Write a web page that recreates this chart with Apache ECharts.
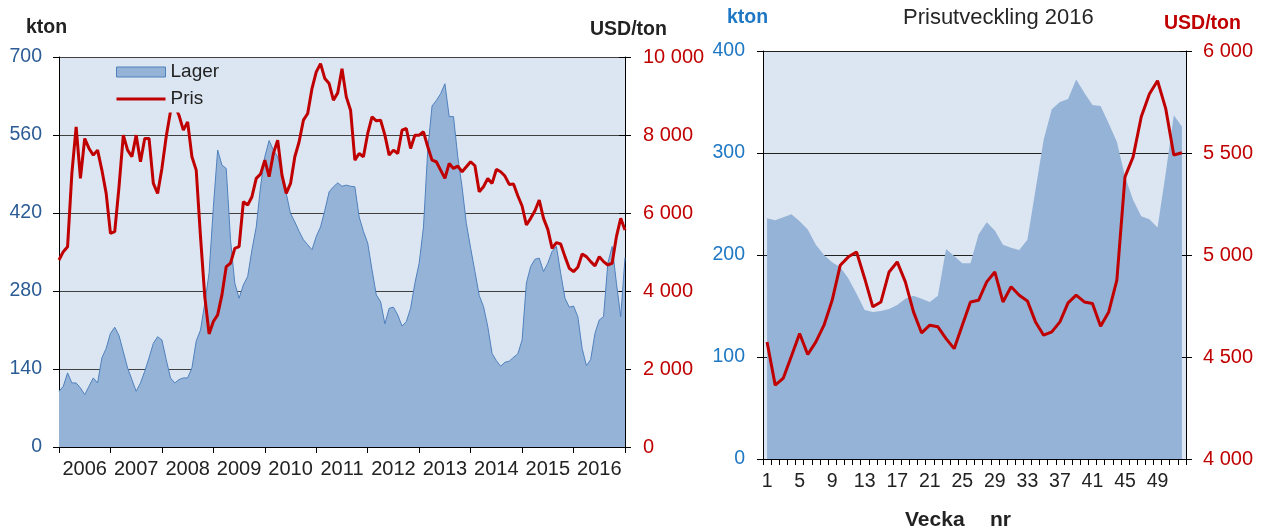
<!DOCTYPE html>
<html>
<head>
<meta charset="utf-8">
<script src="https://cdn.jsdelivr.net/npm/echarts@6/dist/echarts.min.js"></script>
<style>
html,body{margin:0;padding:0;background:#fff;}
#chart{width:1264px;height:532px;}
</style>
</head>
<body>
<div id="chart"></div>
<script>
// ---- Left chart: monthly readings Jan 2006 .. Dec 2016 (+ end point) ----
const years = ['2006','2007','2008','2009','2010','2011','2012','2013','2014','2015','2016'];
const startYear = 2006;
const lagerMonthly = [
  100,109,133,115,115,106,94,109,124,115,
  160,177,204,215,200,171,142,121,100,115,
  136,160,186,198,192,157,124,115,121,124,
  124,142,190,210,258,312,431,533,506,500,
  372,294,267,291,306,354,395,467,521,550,
  533,521,488,455,419,404,387,372,363,354,
  378,395,425,458,467,474,468,470,468,467,
  413,387,366,318,273,261,221,249,251,237,
  217,225,249,294,330,395,533,612,622,634,
  652,593,593,521,467,401,357,315,272,252,
  216,168,155,145,152,154,161,167,192,294,
  324,337,339,315,330,351,360,312,267,251,
  253,234,177,146,157,204,228,234,330,360,
  294,234,340
];
const prisMonthly = [
  4796,5009,5137,7015,8210,6887,7911,7655,7484,7612,
  7100,6503,5479,5521,6674,7996,7612,7441,7996,7314,
  7911,7911,6759,6503,7143,7954,8600,8750,8500,8124,
  8338,7441,7100,5393,3857,2900,3217,3388,3900,4625,
  4711,5095,5137,6289,6204,6418,6887,6998,7356,6930,
  7527,7868,6972,6503,6759,7442,7826,8380,8551,9191,
  9618,9831,9447,9319,8892,9080,9700,8978,8636,7356,
  7527,7442,8039,8466,8363,8380,7996,7484,7612,7527,
  8124,8167,7655,7996,7996,8082,7698,7356,7314,7100,
  6887,7271,7143,7203,7058,7186,7314,7211,6546,6674,
  6887,6759,7117,7058,6947,6733,6742,6443,6179,5692,
  5863,6059,6332,5863,5581,5095,5240,5206,4881,4583,
  4498,4608,4950,4881,4753,4643,4881,4753,4668,4711,
  5394,5863,5564
];

// ---- Right chart: weekly 2016 ----
const weeks = ['1','2','3','4','5','6','7','8','9','10','11','12','13','14','15','16','17','18','19','20','21','22','23','24','25','26','27','28','29','30','31','32','33','34','35','36','37','38','39','40','41','42','43','44','45','46','47','48','49','50','51','52'];
const lager2016 = [236,234,237,240,233,225,210,200,193,188,177,162,146,144,145,147,151,157,160,157,154,160,206,199,192,192,220,232,224,210,207,205,215,264,313,343,350,353,372,359,347,346,329,311,277,254,238,235,227,280,337,326];
const pris2016 = [4574,4362,4397,4505,4615,4512,4574,4656,4778,4950,4991,5015,4885,4746,4770,4917,4966,4868,4721,4618,4656,4648,4590,4541,4656,4770,4778,4868,4917,4770,4844,4803,4775,4672,4607,4623,4672,4765,4803,4770,4762,4651,4721,4877,5383,5481,5678,5789,5854,5719,5490,5501];

const FONT = '"Liberation Sans", Arial, sans-serif';
const RED = '#c00000';
const AREA = '#95b3d7';
const BG = '#dce6f2';
const fmtThousands = v => String(v).replace(/\B(?=(\d{3})+(?!\d))/g, ' ');

const lagerPts = lagerMonthly.map((v, i) => [startYear + i / 12, v]);
const prisPts = prisMonthly.map((v, i) => [startYear + i / 12, v]);

const chart = echarts.init(document.getElementById('chart'), null, {renderer: 'canvas'});

const tickStyle = {color: '#000', width: 1};

chart.setOption({
  animation: false,
  textStyle: {fontFamily: FONT},
  grid: [
    {left: 59, top: 57, width: 566, height: 390, show: true, backgroundColor: BG, borderWidth: 0},
    {left: 763, top: 51, width: 423, height: 408, show: true, backgroundColor: BG, borderWidth: 0}
  ],
  legend: {
    orient: 'vertical', left: 111, top: 59, padding: [3.5, 5, 4, 5], itemGap: 8,
    itemWidth: 49, itemHeight: 10,
    backgroundColor: BG,
    textStyle: {fontSize: 19, color: '#222', fontFamily: FONT},
    data: [
      {name: 'Lager', icon: 'rect', itemStyle: {color: AREA, borderColor: '#4f81bd', borderWidth: 1}},
      {name: 'Pris', icon: 'path://M0,0 L0,0 M0,3.5 L49,3.5 L49,6.5 L0,6.5 Z M49,10 L49,10',
       itemStyle: {color: RED}}
    ]
  },
  xAxis: [
    {gridIndex: 0, type: 'category', data: years, position: 'bottom', boundaryGap: true,
     axisLine: {show: true, lineStyle: {color: '#000'}},
     axisTick: {show: true, length: 6, lineStyle: tickStyle},
     axisLabel: {interval: 0, fontSize: 20, color: '#222', margin: 12, fontFamily: FONT},
     splitLine: {show: false}},
    {gridIndex: 0, type: 'category', data: years, position: 'bottom', boundaryGap: true,
     axisLine: {show: false}, axisTick: {show: true, inside: true, length: 6, lineStyle: tickStyle},
     axisLabel: {show: false}, splitLine: {show: false}},
    {gridIndex: 0, type: 'value', min: 2006, max: 2017, show: false},
    {gridIndex: 1, type: 'category', data: weeks, position: 'bottom', boundaryGap: true,
     axisLine: {show: true, lineStyle: {color: '#000'}},
     axisTick: {show: true, interval: 0, length: 6, lineStyle: tickStyle},
     axisLabel: {interval: 3, fontSize: 19.5, color: '#222', margin: 13, fontFamily: FONT},
     splitLine: {show: false}},
    {gridIndex: 1, type: 'category', data: weeks, position: 'bottom', boundaryGap: true,
     axisLine: {show: false}, axisTick: {show: true, interval: 0, inside: true, length: 6, lineStyle: tickStyle},
     axisLabel: {show: false}, splitLine: {show: false}}
  ],
  yAxis: [
    {gridIndex: 0, type: 'value', position: 'left', min: 0, max: 700, interval: 140,
     axisLine: {show: true, lineStyle: {color: '#000'}},
     axisTick: {show: true, length: 6, lineStyle: tickStyle},
     axisLabel: {fontSize: 19.5, color: '#2b5c95', margin: 17, fontFamily: FONT},
     splitLine: {show: true, lineStyle: {color: '#404040', width: 1}}},
    {gridIndex: 0, type: 'value', position: 'right', min: 0, max: 10000, interval: 2000,
     axisLine: {show: true, lineStyle: {color: '#000'}},
     axisTick: {show: true, length: 6, lineStyle: tickStyle},
     axisLabel: {fontSize: 20, color: RED, margin: 18, fontFamily: FONT, formatter: fmtThousands},
     splitLine: {show: false}},
    {gridIndex: 0, type: 'value', position: 'right', min: 0, max: 10000, interval: 2000,
     axisLine: {show: false}, axisTick: {show: true, inside: true, length: 6, lineStyle: tickStyle},
     axisLabel: {show: false}, splitLine: {show: false}},
    {gridIndex: 1, type: 'value', position: 'left', min: 0, max: 400, interval: 100,
     axisLine: {show: true, lineStyle: {color: '#000'}},
     axisTick: {show: true, length: 6, lineStyle: tickStyle},
     axisLabel: {fontSize: 19.5, color: '#1f78c4', margin: 18, fontFamily: FONT},
     splitLine: {show: true, lineStyle: {color: '#222', width: 1}}},
    {gridIndex: 1, type: 'value', position: 'right', min: 4000, max: 6000, interval: 500,
     axisLine: {show: true, lineStyle: {color: '#000'}},
     axisTick: {show: true, length: 6, lineStyle: tickStyle},
     axisLabel: {fontSize: 20, color: RED, margin: 17, fontFamily: FONT, formatter: fmtThousands},
     splitLine: {show: false}},
    {gridIndex: 1, type: 'value', position: 'right', min: 4000, max: 6000, interval: 500,
     axisLine: {show: false}, axisTick: {show: true, inside: true, length: 6, lineStyle: tickStyle},
     axisLabel: {show: false}, splitLine: {show: false}}
  ],
  series: [
    {name: 'Lager', type: 'line', xAxisIndex: 2, yAxisIndex: 0, data: lagerPts,
     symbol: 'none', showSymbol: false, z: 2,
     lineStyle: {color: '#4f81bd', width: 1}, itemStyle: {color: AREA},
     areaStyle: {color: AREA, opacity: 1}},
    {name: 'Pris', type: 'line', xAxisIndex: 2, yAxisIndex: 1, data: prisPts,
     symbol: 'none', showSymbol: false, z: 3,
     lineStyle: {color: RED, width: 3}, itemStyle: {color: RED}},
    {name: 'Lager 2016', type: 'line', xAxisIndex: 3, yAxisIndex: 3, data: lager2016,
     symbol: 'none', showSymbol: false, z: 2,
     lineStyle: {width: 0, color: AREA}, itemStyle: {color: AREA},
     areaStyle: {color: AREA, opacity: 1}},
    {name: 'Pris 2016', type: 'line', xAxisIndex: 3, yAxisIndex: 4, data: pris2016,
     symbol: 'none', showSymbol: false, z: 3,
     lineStyle: {color: RED, width: 3}, itemStyle: {color: RED}}
  ],
  graphic: [
    {type: 'text', left: 26, top: 18, style: {text: 'kton', font: 'bold 19.5px ' + FONT, fill: '#222'}},
    {type: 'text', left: 590, top: 20, style: {text: 'USD/ton', font: 'bold 19.5px ' + FONT, fill: '#222'}},
    {type: 'text', left: 727, top: 8, style: {text: 'kton', font: 'bold 19.5px ' + FONT, fill: '#1f78c4'}},
    {type: 'text', left: 903, top: 7, style: {text: 'Prisutveckling 2016', font: '22px ' + FONT, fill: '#262626'}},
    {type: 'text', left: 1164, top: 14, style: {text: 'USD/ton', font: 'bold 19.5px ' + FONT, fill: RED}},
    {type: 'text', left: 905, top: 510, style: {text: 'Vecka', font: 'bold 21px ' + FONT, fill: '#222'}},
    {type: 'text', left: 990, top: 510, style: {text: 'nr', font: 'bold 21px ' + FONT, fill: '#222'}}
  ]
});
</script>
</body>
</html>
